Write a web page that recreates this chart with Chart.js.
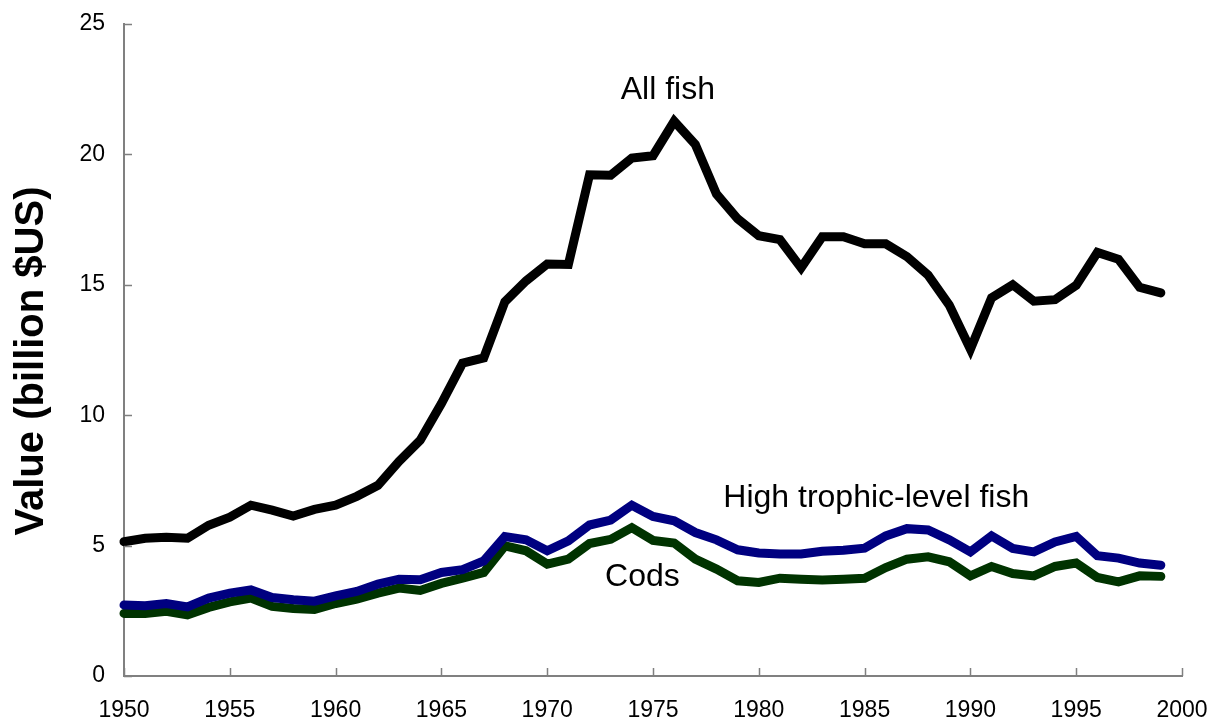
<!DOCTYPE html>
<html lang="en">
<head>
  <meta charset="utf-8">
  <script src="https://cdn.jsdelivr.net/npm/chart.js"></script>
  <style>
    html, body { margin: 0; padding: 0; background: #fff; }
    #wrap { width: 1210px; height: 724px; }
  </style>
</head>
<body>
  <div id="wrap"><canvas id="fishChart" width="1210" height="724"></canvas></div>

  <script>
    const years = [1950, 1951, 1952, 1953, 1954, 1955, 1956, 1957, 1958, 1959,
                   1960, 1961, 1962, 1963, 1964, 1965, 1966, 1967, 1968, 1969,
                   1970, 1971, 1972, 1973, 1974, 1975, 1976, 1977, 1978, 1979,
                   1980, 1981, 1982, 1983, 1984, 1985, 1986, 1987, 1988, 1989,
                   1990, 1991, 1992, 1993, 1994, 1995, 1996, 1997, 1998, 1999];

    const allFish = [5.15, 5.28, 5.32, 5.28, 5.78, 6.09, 6.55, 6.36, 6.13, 6.39,
                     6.55, 6.89, 7.31, 8.23, 9.04, 10.45, 12.0, 12.2, 14.35, 15.15,
                     15.8, 15.78, 19.22, 19.2, 19.86, 19.95, 21.27, 20.38, 18.48, 17.53,
                     16.88, 16.73, 15.65, 16.84, 16.84, 16.57, 16.57, 16.08, 15.37, 14.22,
                     12.53, 14.5, 15.0, 14.37, 14.43, 14.98, 16.24, 15.98, 14.9, 14.69];

    const highTrophic = [2.72, 2.69, 2.78, 2.65, 2.99, 3.18, 3.3, 3.01, 2.92, 2.87,
                         3.07, 3.24, 3.52, 3.71, 3.69, 3.97, 4.08, 4.41, 5.35, 5.22,
                         4.8, 5.18, 5.79, 5.98, 6.55, 6.12, 5.95, 5.5, 5.22, 4.84,
                         4.72, 4.68, 4.68, 4.78, 4.82, 4.9, 5.37, 5.65, 5.6, 5.22,
                         4.76, 5.37, 4.89, 4.76, 5.14, 5.35, 4.61, 4.52, 4.33, 4.25];

    const cods = [2.4, 2.4, 2.48, 2.34, 2.63, 2.84, 2.99, 2.67, 2.59, 2.55,
                  2.78, 2.95, 3.18, 3.37, 3.28, 3.55, 3.75, 3.97, 4.99, 4.8,
                  4.29, 4.48, 5.08, 5.24, 5.69, 5.2, 5.1, 4.48, 4.1, 3.65,
                  3.59, 3.75, 3.71, 3.68, 3.71, 3.75, 4.16, 4.48, 4.57, 4.38,
                  3.84, 4.2, 3.93, 3.84, 4.2, 4.33, 3.78, 3.61, 3.84, 3.82];

    const xTicks = [1950, 1955, 1960, 1965, 1970, 1975, 1980, 1985, 1990, 1995, 2000];
    const yTicks = [0, 5, 10, 15, 20, 25];
    const yTitle = 'Value (billion $US)';

    // series names written next to the lines (year, value)
    const seriesLabels = [
      { text: 'All fish', year: 1975.7, value: 22.45 },
      { text: 'High trophic-level fish', year: 1985.55, value: 6.8 },
      { text: 'Cods', year: 1974.5, value: 3.8 }
    ];

    function points(vals) {
      return years.map((y, i) => ({ x: y, y: vals[i] }));
    }

    // short tick marks drawn inward from the axis lines, plus the y title
    const axisExtras = {
      id: 'axisExtras',
      afterDraw(chart) {
        const ctx = chart.ctx;
        const xs = chart.scales.x, ys = chart.scales.y;
        const area = chart.chartArea;
        ctx.save();
        ctx.strokeStyle = '#808080';
        ctx.lineWidth = 1.5;
        ctx.beginPath();
        xTicks.forEach(t => {
          const px = Math.round(xs.getPixelForValue(t)) + 0.5;
          ctx.moveTo(px, area.bottom);
          ctx.lineTo(px, area.bottom - 8);
        });
        yTicks.forEach(t => {
          const py = Math.round(ys.getPixelForValue(t)) + 0.5;
          ctx.moveTo(area.left, py);
          ctx.lineTo(area.left + 8, py);
        });
        ctx.stroke();

        ctx.translate(32, (area.top + area.bottom) / 2 + 11);
        ctx.rotate(-Math.PI / 2);
        ctx.fillStyle = '#000';
        ctx.font = 'bold 40px "Liberation Sans", Arial, sans-serif';
        ctx.textAlign = 'center';
        ctx.textBaseline = 'middle';
        ctx.fillText(yTitle, 0, 0);
        ctx.restore();
      }
    };

    const seriesText = {
      id: 'seriesText',
      afterDatasetsDraw(chart) {
        const ctx = chart.ctx;
        ctx.save();
        ctx.fillStyle = '#000';
        ctx.font = '32px "Liberation Sans", Arial, sans-serif';
        ctx.textAlign = 'center';
        ctx.textBaseline = 'middle';
        seriesLabels.forEach(l => {
          ctx.fillText(l.text, chart.scales.x.getPixelForValue(l.year), chart.scales.y.getPixelForValue(l.value));
        });
        ctx.restore();
      }
    };

    function line(label, vals, color) {
      return {
        label: label,
        data: points(vals),
        borderColor: color,
        backgroundColor: color,
        borderWidth: 9,
        borderCapStyle: 'round',
        borderJoinStyle: 'miter',
        pointRadius: 0,
        tension: 0,
        clip: false
      };
    }

    const tickFont = { family: '"Liberation Sans", Arial, sans-serif', size: 23 };

    function noOverhang(s) {
      s.paddingLeft = 0; s.paddingRight = 0; s.paddingTop = 0; s.paddingBottom = 0;
    }

    new Chart(document.getElementById('fishChart'), {
      type: 'line',
      data: {
        datasets: [
          line('All fish', allFish, '#000000'),
          line('High trophic-level fish', highTrophic, '#000080'),
          line('Cods', cods, '#003300')
        ]
      },
      options: {
        responsive: false,
        animation: false,
        layout: { padding: { top: 24, right: 28, left: 0, bottom: 0 } },
        plugins: { legend: { display: false }, tooltip: { enabled: false } },
        scales: {
          x: {
            type: 'linear',
            min: 1950,
            max: 2000,
            afterBuildTicks: s => { s.ticks = xTicks.map(v => ({ value: v })); },
            afterFit: s => { s.height = 48; noOverhang(s); },
            grid: { display: false, drawTicks: false },
            border: { display: true, color: '#808080', width: 2 },
            ticks: {
              color: '#000',
              padding: 21,
              maxRotation: 0,
              font: tickFont,
              callback: v => String(v)
            }
          },
          y: {
            min: 0,
            max: 25,
            afterBuildTicks: s => { s.ticks = yTicks.map(v => ({ value: v })); },
            afterFit: s => { s.width = 124; noOverhang(s); },
            grid: { display: false, drawTicks: false },
            border: { display: true, color: '#808080', width: 2 },
            ticks: {
              color: '#000',
              padding: 19,
              font: tickFont,
              callback: v => String(v)
            }
          }
        }
      },
      plugins: [axisExtras, seriesText]
    });
  </script>
</body>
</html>
